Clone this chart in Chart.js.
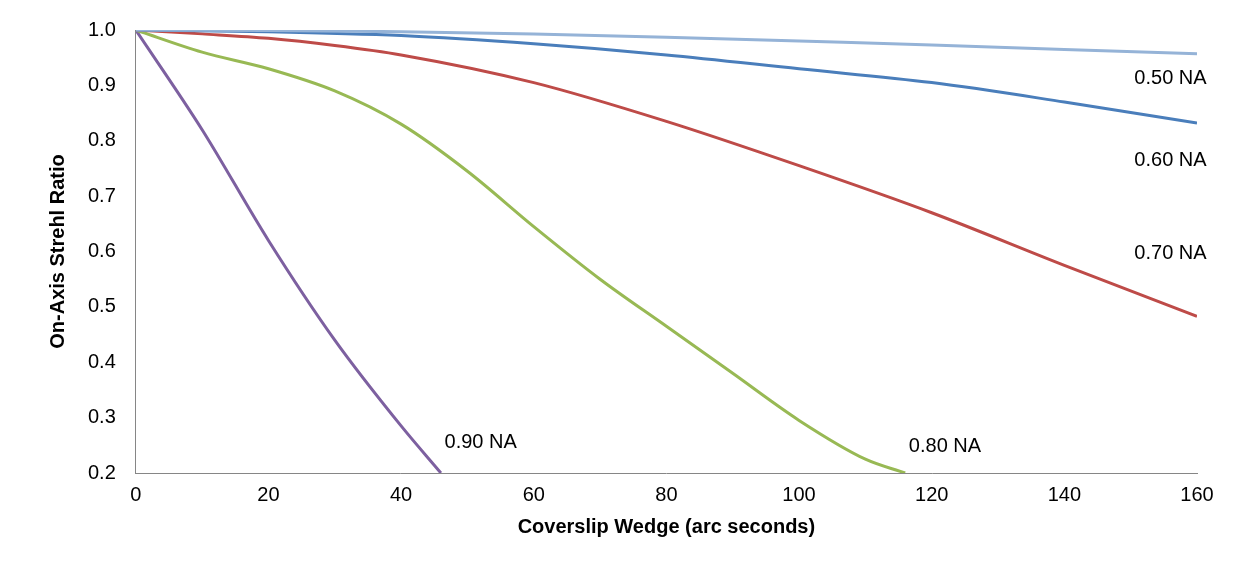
<!DOCTYPE html>
<html>
<head>
<meta charset="utf-8">
<script src="https://cdn.jsdelivr.net/npm/chart.js@4.4.1/dist/chart.umd.min.js"></script>
<style>
  html, body { margin: 0; padding: 0; background: #fff; }
  #wrap { width: 1245px; height: 563px; }
</style>
</head>
<body>
<div id="wrap"><canvas id="c"></canvas></div>
<script>
// wedge angle (arc seconds) and Strehl ratio
const na50X = [0, 20, 40, 60, 80, 100, 120, 140, 160];
const na50Y = [1.0, 0.999, 0.997, 0.993, 0.987, 0.98, 0.973, 0.965, 0.957];
const na60X = [0, 20, 40, 60, 80, 100, 120, 140, 160];
const na60Y = [1.0, 0.997, 0.99, 0.975, 0.955, 0.93, 0.905, 0.87, 0.832];
const na70X = [0, 10, 20, 30, 40, 60, 80, 100, 120, 140, 160];
const na70Y = [1.0, 0.993, 0.985, 0.972, 0.955, 0.905, 0.835, 0.755, 0.67, 0.575, 0.483];
const na80X = [0, 10, 20, 30, 40, 50, 60, 70, 80, 90, 100, 110, 116];
const na80Y = [1.0, 0.96, 0.93, 0.89, 0.83, 0.745, 0.645, 0.55, 0.465, 0.38, 0.295, 0.225, 0.2];
const na90X = [0, 10, 20, 30, 40, 46];
const na90Y = [1.0, 0.82, 0.62, 0.44, 0.285, 0.2];

const xTicks = [0, 20, 40, 60, 80, 100, 120, 140, 160];
const yTicks = [0.2, 0.3, 0.4, 0.5, 0.6, 0.7, 0.8, 0.9, 1.0];

// curve labels: text and where they sit in data units
const labelText = ["0.50 NA", "0.60 NA", "0.70 NA", "0.80 NA", "0.90 NA"];
const labelX = [156, 156, 156, 122, 52];
const labelY = [0.913, 0.765, 0.597, 0.248, 0.255];

const toPts = (xs, ys) => xs.map((x, i) => ({ x: x, y: ys[i] }));
const FONT = "'Liberation Sans', Arial, sans-serif";

const curveLabels = {
  id: "curveLabels",
  afterDatasetsDraw(chart) {
    const ctx = chart.ctx;
    const xs = chart.scales.x, ys = chart.scales.y;
    ctx.save();
    ctx.font = "20px " + FONT;
    ctx.fillStyle = "#000";
    ctx.textAlign = "center";
    ctx.textBaseline = "middle";
    labelText.forEach((t, i) => {
      ctx.fillText(t, xs.getPixelForValue(labelX[i]), ys.getPixelForValue(labelY[i]));
    });
    ctx.restore();
  }
};

const ds = (xs, ys, color) => ({
  data: toPts(xs, ys),
  borderColor: color,
  borderWidth: 3,
  pointRadius: 0,
  cubicInterpolationMode: "monotone",
  fill: false
});

new Chart(document.getElementById("c"), {
  type: "line",
  data: {
    datasets: [
      ds(na50X, na50Y, "#95B3D7"),
      ds(na60X, na60Y, "#4A7EBB"),
      ds(na70X, na70Y, "#BE4B48"),
      ds(na80X, na80Y, "#98B954"),
      ds(na90X, na90Y, "#7D60A0")
    ]
  },
  options: {
    responsive: true,
    maintainAspectRatio: false,
    animation: false,
    layout: { padding: { top: 30, right: 48, left: 42, bottom: 20 } },
    plugins: { legend: { display: false }, tooltip: { enabled: false } },
    scales: {
      x: {
        type: "linear",
        min: 0, max: 160,
        afterBuildTicks: (s) => { s.ticks = xTicks.map(v => ({ value: v })); },
        grid: { display: false, drawTicks: true, tickLength: 6, tickColor: "#868686" },
        border: { color: "#868686", width: 1 },
        ticks: { color: "#000", font: { size: 20, family: FONT }, padding: 4 },
        title: { display: true, text: "Coverslip Wedge (arc seconds)", color: "#000",
                 font: { size: 20, weight: "bold", family: FONT } }
      },
      y: {
        type: "linear",
        min: 0.2, max: 1.0,
        afterBuildTicks: (s) => { s.ticks = yTicks.map(v => ({ value: v })); },
        grid: { display: false, drawTicks: true, tickLength: 6, tickColor: "#868686" },
        border: { color: "#868686", width: 1 },
        ticks: { color: "#000", font: { size: 20, family: FONT }, padding: 14,
                 callback: (v) => Number(v).toFixed(1) },
        title: { display: true, text: "On-Axis Strehl Ratio", color: "#000",
                 font: { size: 20, weight: "bold", family: FONT } }
      }
    }
  },
  plugins: [curveLabels]
});
</script>
</body>
</html>
